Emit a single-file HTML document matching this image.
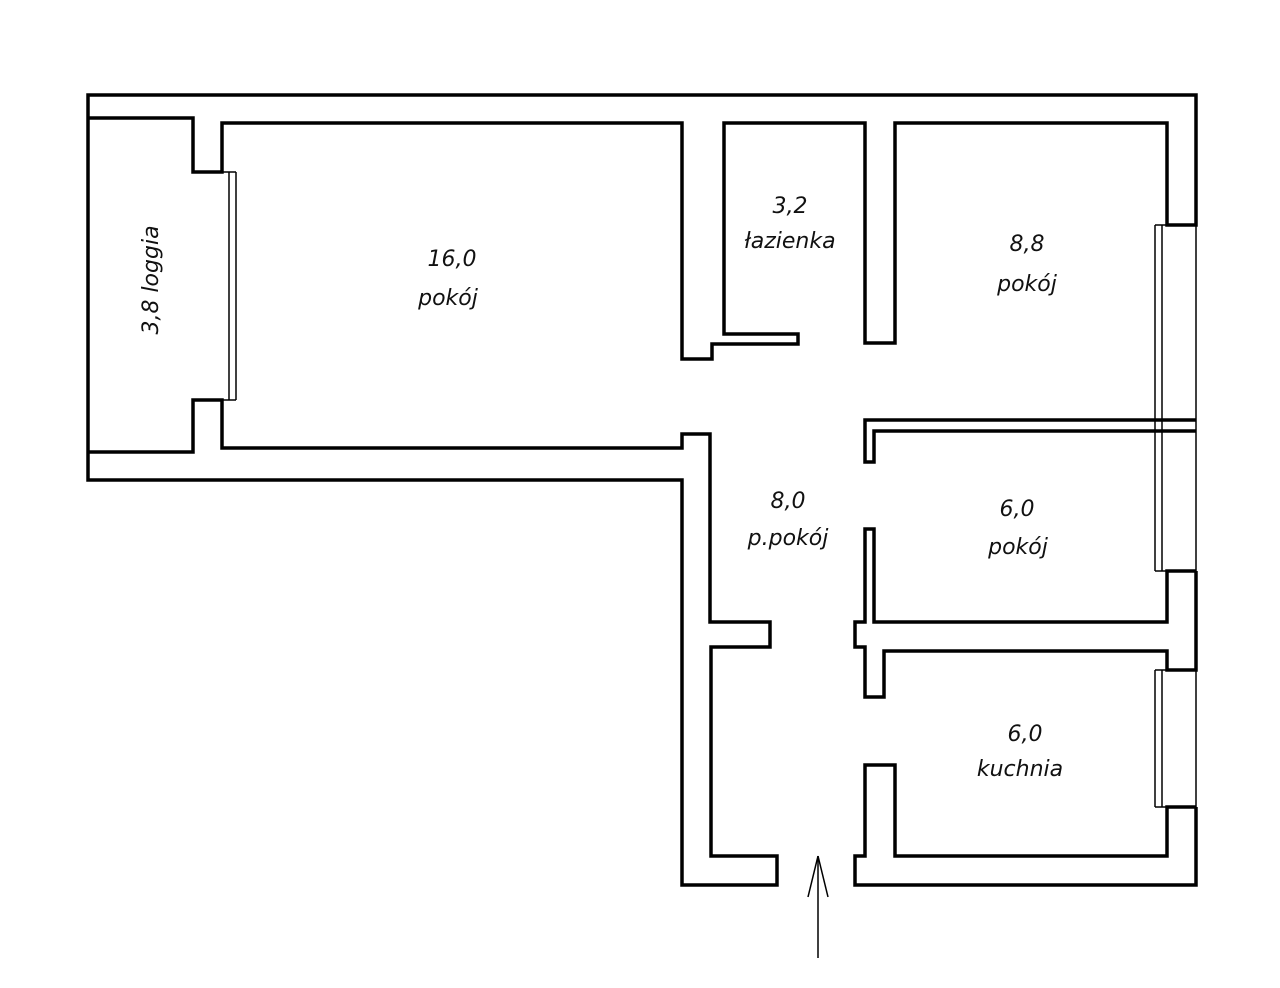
<!DOCTYPE html>
<html><head><meta charset="utf-8"><style>
html,body{margin:0;padding:0;background:#fff;}
svg{display:block;}
text{font-family:"DejaVu Sans","Liberation Sans",sans-serif;font-style:italic;font-size:22px;fill:#111;text-anchor:middle;}
</style></head><body>
<svg width="1280" height="988" viewBox="0 0 1280 988" xmlns="http://www.w3.org/2000/svg">
<g fill="none" stroke="#000" stroke-width="3.5" stroke-linejoin="miter">
<!-- outer top + right top segment -->
<polyline points="88,118 88,95 1196,95 1196,225 1167,225 1167,123 895,123 895,343 865,343 865,123 724,123 724,334 798,334 798,344 712,344 712,359 682,359 682,123 222,123 222,172 193,172 193,118 88,118 88,452 193,452 193,400 222,400 222,448 682,448 682,434 710,434 710,622 770,622 770,647 711,647 711,856 777,856 777,885 682,885 682,480 88,480 88,452"/>
<!-- wall 8.8 / 6.0 -->
<polyline points="1196,420 865,420 865,462 874,462 874,431 1196,431"/>
<!-- wall 6.0 / kitchen -->
<polyline points="1196,571 1167,571 1167,622 874,622 874,529 865,529 865,622 855,622 855,647 865,647 865,697 884,697 884,651 1167,651 1167,670 1196,670 1196,571"/>
<!-- kitchen bottom -->
<polyline points="1196,807 1167,807 1167,856 895,856 895,765 865,765 865,856 855,856 855,885 1196,885 1196,807"/>
</g>
<g stroke="#000" stroke-width="1.5" fill="none">
<!-- loggia window -->
<line x1="229" y1="172" x2="229" y2="400"/>
<line x1="236" y1="172" x2="236" y2="400"/>
<line x1="222" y1="172" x2="236" y2="172"/>
<line x1="222" y1="400" x2="236" y2="400"/>
<!-- right windows -->
<line x1="1155" y1="225" x2="1155" y2="571"/>
<line x1="1162" y1="225" x2="1162" y2="571"/>
<line x1="1196" y1="225" x2="1196" y2="571"/>
<line x1="1155" y1="225" x2="1167" y2="225"/>
<line x1="1155" y1="571" x2="1167" y2="571"/>
<line x1="1155" y1="670" x2="1155" y2="807"/>
<line x1="1162" y1="670" x2="1162" y2="807"/>
<line x1="1196" y1="670" x2="1196" y2="807"/>
<line x1="1155" y1="670" x2="1167" y2="670"/>
<line x1="1155" y1="807" x2="1167" y2="807"/>
<!-- arrow -->
<line x1="818" y1="958" x2="818" y2="856"/>
<line x1="818" y1="856" x2="808" y2="897"/>
<line x1="818" y1="856" x2="828" y2="897"/>
</g>
<text x="452" y="266">16,0</text>
<text x="448" y="305">pokój</text>
<text x="790" y="213">3,2</text>
<text x="790" y="248">łazienka</text>
<text x="1027" y="251">8,8</text>
<text x="1027" y="291">pokój</text>
<text x="788" y="508">8,0</text>
<text x="788" y="545">p.pokój</text>
<text x="1017" y="516">6,0</text>
<text x="1018" y="554">pokój</text>
<text x="1025" y="741">6,0</text>
<text x="1020" y="776">kuchnia</text>
<text x="0" y="0" transform="translate(158,280) rotate(-90)">3,8  loggia</text>
</svg>
</body></html>
